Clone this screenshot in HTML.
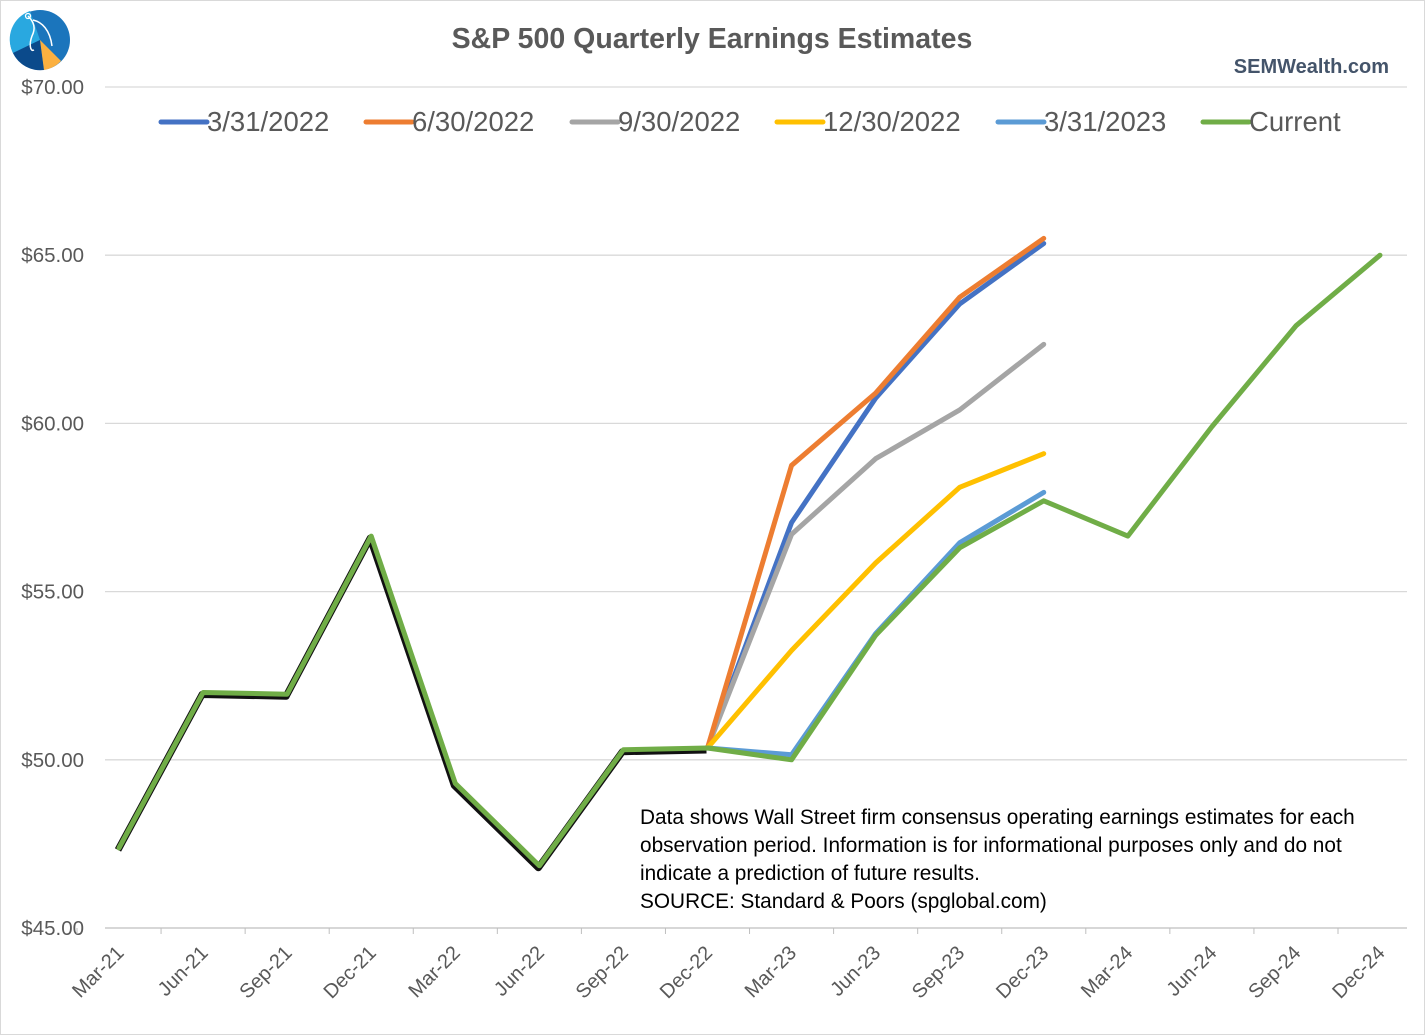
<!DOCTYPE html>
<html><head><meta charset="utf-8"><style>
html,body{margin:0;padding:0;background:#fff}
svg{display:block;font-family:"Liberation Sans",sans-serif}
</style></head><body>
<svg id="chart" width="1425" height="1035" viewBox="0 0 1425 1035">
<rect x="0.5" y="0.5" width="1424" height="1034" fill="#fff" stroke="#d9d9d9"/>
<g>
<circle cx="40" cy="40" r="30" fill="#1b75bc"/>
<path d="M40,40 L30,11 A30,30 0 0 0 13,53 Z" fill="#29a8e0"/>
<path d="M40,40 L13,53 A30,30 0 0 0 44,70 Z" fill="#0b4a8b"/>
<path d="M40,40 L44,70 A30,30 0 0 0 61,61 Z" fill="#fbb040"/>
<path d="M28,16 C34,22 36,28 32,36 C29,44 30,52 34,50 M33,20 C42,22 50,30 52,46" stroke="#fff" stroke-width="1.5" fill="none"/>
<circle cx="28" cy="16" r="2.5" fill="none" stroke="#fff" stroke-width="1.3"/>
</g>
<text x="712" y="48" text-anchor="middle" font-size="28.5" font-weight="bold" fill="#595959">S&amp;P 500 Quarterly Earnings Estimates</text>
<text x="1389" y="73" text-anchor="end" font-size="20" font-weight="bold" fill="#44546a">SEMWealth.com</text>
<g id="grid"></g>
<g id="yaxis"></g>
<g id="xaxis"></g>
<g id="series"></g>
<g id="legend"></g>
<text font-size="20.8" fill="#000">
<tspan x="640" y="824">Data shows Wall Street firm consensus operating earnings estimates for each</tspan>
<tspan x="640" y="852">observation period. Information is for informational purposes only and do not</tspan>
<tspan x="640" y="880">indicate a prediction of future results.</tspan>
<tspan x="640" y="908">SOURCE: Standard &amp; Poors (spglobal.com)</tspan>
</text>
</svg>
<script>
const categories=["Mar-21","Jun-21","Sep-21","Dec-21","Mar-22","Jun-22","Sep-22","Dec-22","Mar-23","Jun-23","Sep-23","Dec-23","Mar-24","Jun-24","Sep-24","Dec-24"];
const yTicks=[45,50,55,60,65,70];
const current=[47.38,52.0,51.95,56.65,49.3,46.85,50.3,50.35,50.0,53.7,56.3,57.7,56.65,59.9,62.9,65.0];
const s20220331=[null,null,null,null,null,null,null,50.35,57.05,60.75,63.55,65.35];
const s20220630=[null,null,null,null,null,null,null,50.35,58.75,60.9,63.75,65.5];
const s20220930=[null,null,null,null,null,null,null,50.35,56.7,58.95,60.4,62.35];
const s20221230=[null,null,null,null,null,null,null,50.35,53.25,55.85,58.1,59.1];
const s20230331=[null,null,null,null,null,null,null,50.35,50.15,53.75,56.45,57.95];
const actuals=[47.38,52.0,51.95,56.65,49.3,46.85,50.3,50.35];
const seriesNames=["3/31/2022","6/30/2022","9/30/2022","12/30/2022","3/31/2023","Current"];
const NS="http://www.w3.org/2000/svg";
const X0=119,X1=1380,Y45=928,Y70=87,L=105,R=1407;
const x=i=>X0+i*(X1-X0)/(categories.length-1);
const y=v=>Y45-(v-45)*(Y45-Y70)/25;
function mk(tag,attrs,parent){const e=document.createElementNS(NS,tag);for(const k in attrs)e.setAttribute(k,attrs[k]);parent.appendChild(e);return e;}
const grid=document.getElementById('grid'),ya=document.getElementById('yaxis'),xa=document.getElementById('xaxis'),sg=document.getElementById('series'),lg=document.getElementById('legend');
yTicks.forEach(t=>{
 const ln=mk('line',{x1:L,x2:R,y1:y(t),y2:y(t),stroke:t===45?'#bfbfbf':'#d9d9d9','stroke-width':1.3},grid);
 
 
 const tx=mk('text',{x:84,y:y(t)+7,'text-anchor':'end','font-size':20.5,fill:'#595959'},ya);
 tx.textContent='$'+t.toFixed(2);
 
 
});
categories.forEach((c,i)=>{
 const tk=mk('line',{x1:x(i)-42,x2:x(i)-42,y1:Y45,y2:Y45+6,stroke:'#bfbfbf'},xa);
 
 
 const ax=x(i)+6,ay=Y45+26;
 const tx=mk('text',{x:ax,y:ay,'text-anchor':'end','font-size':20,fill:'#595959',transform:`rotate(-45 ${ax} ${ay})`},xa);
 tx.textContent=c;
 
 
});
function pts(arr){return arr.map((v,i)=>v==null?null:x(i)+','+y(v)).filter(p=>p).join(' ');}
const blk=mk('polyline',{points:pts(actuals),fill:'none',stroke:'#111','stroke-width':7,'stroke-linejoin':'round',transform:'translate(-1,2)'},sg);


const defs=[[s20220331,'#4472c4','line-3-31-2022'],[s20220930,'#a5a5a5','line-9-30-2022'],[s20220630,'#ed7d31','line-6-30-2022'],[s20221230,'#ffc000','line-12-30-2022'],[s20230331,'#5b9bd5','line-3-31-2023'],[current,'#70ad47','line-current']];
defs.forEach(d=>{
 const p=mk('polyline',{points:pts(d[0]),fill:'none',stroke:d[1],'stroke-width':5,'stroke-linejoin':'round','stroke-linecap':'round'},sg);
 
 
});
const legColors=['#4472c4','#ed7d31','#a5a5a5','#ffc000','#5b9bd5','#70ad47'];
const legX=[161,366,572,777,998,1203];
seriesNames.forEach((n,i)=>{
 const g=mk('g',{},lg);
 
 
 mk('line',{x1:legX[i],x2:legX[i]+46,y1:122,y2:122,stroke:legColors[i],'stroke-width':5,'stroke-linecap':'round'},g);
 const t=mk('text',{x:legX[i]+46,y:131,'font-size':27.5,fill:'#595959'},g);
 t.textContent=n;
});
</script>
</body></html>
